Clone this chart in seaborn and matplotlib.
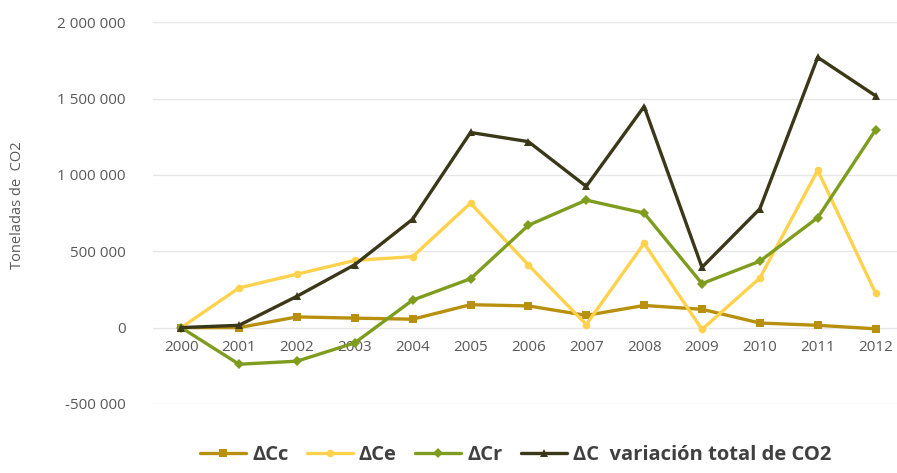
import pandas as pd
import matplotlib
matplotlib.use("Agg")
import matplotlib.pyplot as plt
import seaborn as sns

years = ["2000", "2001", "2002", "2003", "2004", "2005", "2006",
         "2007", "2008", "2009", "2010", "2011", "2012"]

# toneladas de CO2
d_cc = [0, 0, 70000, 62000, 55000, 150000, 142000, 80000, 145000, 120000, 30000, 15000, -8000]
d_ce = [0, 260000, 350000, 440000, 465000, 815000, 410000, 20000, 552000, -12000, 325000, 1030000, 225000]
d_cr = [0, -240000, -220000, -100000, 180000, 320000, 670000, 835000, 750000, 288000, 435000, 720000, 1295000]
d_c = [0, 15000, 205000, 412000, 710000, 1278000, 1218000, 925000, 1448000, 395000, 778000, 1770000, 1518000]

series_names = ["ΔCc", "ΔCe", "ΔCr", "ΔC  variación total de CO2"]
colors = ["#B8900E", "#FFD24D", "#7E9C1E", "#3B3819"]
markers = ["s", "o", "D", "^"]

df = pd.DataFrame({"year": years, "ΔCc": d_cc, "ΔCe": d_ce, "ΔCr": d_cr,
                   "ΔC  variación total de CO2": d_c})
df["pos"] = range(len(years))
long = df.melt(id_vars=["year", "pos"], var_name="serie", value_name="valor")

sns.set_style("white")
plt.rcParams["font.family"] = ["Open Sans", "DejaVu Sans"]

fig = plt.figure(figsize=(8.97, 4.73), dpi=100)
ax = fig.add_axes([0.171, 0.146, 0.829, 0.807])

sns.lineplot(data=long, x="pos", y="valor", hue="serie", style="serie",
             hue_order=series_names, style_order=series_names,
             palette=colors, markers=markers, dashes=False,
             markersize=5.5, linewidth=2.4, markeredgewidth=0,
             ax=ax, zorder=3)

ax.set_xlim(-0.48, 12.37)
ax.set_ylim(-500000, 2000000)
yticks = [-500000, 0, 500000, 1000000, 1500000, 2000000]
ax.set_yticks(yticks)
ax.set_yticklabels([f"{v:,}".replace(",", " ") for v in yticks])
ax.yaxis.grid(True, color="#E6E6E6", linewidth=1)
ax.set_axisbelow(True)

ax.set_xticks(range(len(years)))
ax.set_xticklabels(years)
for s in ax.spines.values():
    s.set_visible(False)
ax.spines["bottom"].set_position(("data", 0))
ax.tick_params(axis="both", length=0, labelsize=11, labelcolor="#595959")
ax.tick_params(axis="y", pad=20)
ax.tick_params(axis="x", pad=9)

ax.set_xlabel("")
ax.set_ylabel("Toneladas de  CO2", fontsize=10.5, color="#595959")
ax.yaxis.set_label_coords(-0.172, 0.52)

handles, labels = ax.get_legend_handles_labels()
ax.legend(handles, labels, loc="center", bbox_to_anchor=(0.487, -0.135),
          ncol=4, frameon=False, handlelength=2.3,
          columnspacing=0.9, handletextpad=0.3,
          prop={"weight": "bold", "size": 14.5})
for t in ax.get_legend().get_texts():
    t.set_color("#404040")

fig.savefig("out.png", dpi=100)
